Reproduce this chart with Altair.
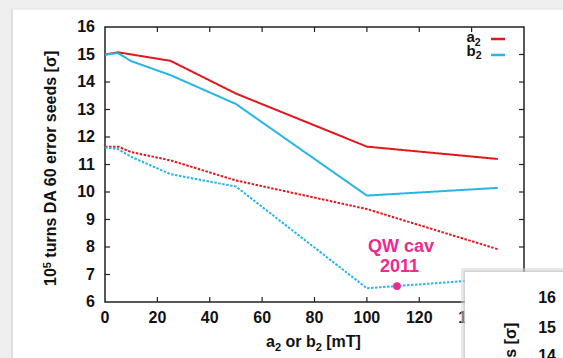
import altair as alt
import pandas as pd

# ---- data -------------------------------------------------------------
a2_x = [0, 5, 25, 50, 100, 150]
a2_da_1e5 = [15.0, 15.08, 14.77, 13.58, 11.65, 11.2]

b2_x = [0, 5, 10, 25, 50, 100, 150]
b2_da_1e5 = [15.0, 15.05, 14.76, 14.25, 13.2, 9.87, 10.15]

a2_x_dot = [0, 5, 10, 25, 50, 100, 150]
a2_da_dot = [11.65, 11.65, 11.45, 11.15, 10.42, 9.38, 7.92]

b2_x_dot = [0, 5, 10, 25, 50, 100, 150]
b2_da_dot = [11.62, 11.56, 11.28, 10.65, 10.2, 6.5, 6.85]

qw_cav_x = [111.5]
qw_cav_y = [6.58]

x_ticks = [0, 20, 40, 60, 80, 100, 120, 140, 160]
y_ticks = [6, 7, 8, 9, 10, 11, 12, 13, 14, 15, 16]
panel_labels = ["16", "15", "14"]

# ---- styling ----------------------------------------------------------
RED = "#e3161b"
BLUE = "#25b5e8"
PINK = "#ec2a8f"
INK = "#111111"
FONT = "Liberation Sans"
W, H = 419, 275          # plot area
OX, OY = 105, 27         # plot origin inside the page

xs = alt.Scale(domain=[0, 160], nice=False, zero=False)
ys = alt.Scale(domain=[6, 16], nice=False, zero=False)

ONE = pd.DataFrame({"k": [0]})

# advance widths of Liberation Sans Bold (per em), for laying out
# titles that mix normal text with sub/superscripts
ADV = {" ": .278, "a": .556, "b": .611, "o": .611, "r": .389, "[": .333, "]": .333,
       "m": .889, "T": .611, "t": .333, "u": .611, "n": .611, "s": .556, "D": .722,
       "A": .722, "e": .556, "d": .611, "σ": .6}


def text_width(s, size):
    return sum(ADV.get(c, .556) for c in s) * size


def rich_text(runs, x0, y0, vertical=False, color=INK):
    """runs: (text, font size, baseline shift). Page pixel coordinates."""
    layers, pos = [], 0.0
    for s, size, shift in runs:
        lead = len(s) - len(s.lstrip(" "))
        pos += text_width(" " * lead, size)
        s = s.lstrip(" ")
        if vertical:
            px, py, ang = x0 + shift, y0 - pos, 270
        else:
            px, py, ang = x0 + pos, y0 + shift, 0
        layers.append(alt.Chart(ONE).mark_text(
            font=FONT, fontWeight="bold", fontSize=size, color=color,
            align="left", baseline="alphabetic", angle=ang).encode(
            x=alt.value(px - OX), y=alt.value(py - OY), text=alt.value(s)))
        pos += text_width(s, size)
    return layers


def series(xv, yv, color, dashed):
    df = pd.DataFrame({"x": xv, "y": yv})
    m = alt.Chart(df).mark_line(color=color, strokeWidth=2,
                                strokeDash=[2.5, 1.5] if dashed else [1, 0])
    return m.encode(x=alt.X("x:Q", scale=xs, axis=None),
                    y=alt.Y("y:Q", scale=ys, axis=None))


def box(x1, x2, y1, y2, color, opacity=1.0):
    return alt.Chart(ONE).mark_rect(color=color, opacity=opacity).encode(
        x=alt.value(x1 - OX), x2=alt.value(x2 - OX),
        y=alt.value(y1 - OY), y2=alt.value(y2 - OY))


# slide edge shading
edges = [
    box(0, 12, 0, 358, "#efefef"),
    box(0, 563, 0, 9, "#efefef"),
    alt.Chart(ONE).mark_rule(color="#d6d6d6", strokeWidth=1.5).encode(
        x=alt.value(12 - OX), y=alt.value(9 - OY), y2=alt.value(358 - OY)),
    alt.Chart(ONE).mark_rule(color="#e2e2e2", strokeWidth=1).encode(
        x=alt.value(12 - OX), x2=alt.value(563 - OX), y=alt.value(9 - OY)),
]

# inward ticks on all four sides, and the tick labels
xt = pd.DataFrame({"v": x_ticks})
yt = pd.DataFrame({"v": y_ticks})
xt_in = pd.DataFrame({"v": x_ticks[1:-1]})
yt_in = pd.DataFrame({"v": y_ticks[1:-1]})
tick_style = dict(color="#222", strokeWidth=1.2)
ticks = [
    alt.Chart(xt_in).mark_rule(**tick_style).encode(
        x=alt.X("v:Q", scale=xs, axis=None), y=alt.value(H), y2=alt.value(H - 5)),
    alt.Chart(xt_in).mark_rule(**tick_style).encode(
        x=alt.X("v:Q", scale=xs, axis=None), y=alt.value(0), y2=alt.value(5)),
    alt.Chart(yt_in).mark_rule(**tick_style).encode(
        y=alt.Y("v:Q", scale=ys, axis=None), x=alt.value(0), x2=alt.value(5)),
    alt.Chart(yt_in).mark_rule(**tick_style).encode(
        y=alt.Y("v:Q", scale=ys, axis=None), x=alt.value(W), x2=alt.value(W - 5)),
]
label_style = dict(font=FONT, fontWeight="bold", fontSize=16, color=INK)
tick_labels = [
    alt.Chart(xt).mark_text(align="center", baseline="middle", **label_style).encode(
        x=alt.X("v:Q", scale=xs, axis=None), y=alt.value(318 - OY), text="v:Q"),
    alt.Chart(yt).mark_text(align="right", baseline="middle", **label_style).encode(
        y=alt.Y("v:Q", scale=ys, axis=None), x=alt.value(-10), text="v:Q"),
]

lines = [
    series(a2_x_dot, a2_da_dot, RED, True),
    series(b2_x_dot, b2_da_dot, BLUE, True),
    series(a2_x, a2_da_1e5, RED, False),
    series(b2_x, b2_da_1e5, BLUE, False),
]

qw_point = alt.Chart(pd.DataFrame({"x": qw_cav_x, "y": qw_cav_y})).mark_circle(
    color=PINK, opacity=1, size=60).encode(
    x=alt.X("x:Q", scale=xs, axis=None), y=alt.Y("y:Q", scale=ys, axis=None))

qw_text = [
    alt.Chart(ONE).mark_text(color=PINK, fontSize=18, font=FONT, fontWeight="bold",
                             align="center", baseline="middle").encode(
        x=alt.X(datum=x_val, scale=xs, axis=None),
        y=alt.Y(datum=y_val, scale=ys, axis=None), text=alt.value(label))
    for label, x_val, y_val in [("QW cav", 113, 8.0), ("2011", 112.5, 7.28)]
]

# axis titles with sub/superscripts
x_title = rich_text([("a", 16, 0), ("2", 11, 4), (" or b", 16, 0), ("2", 11, 4),
                     (" [mT]", 16, 0)], 266, 346.5)
y_title = rich_text([("10", 16, 0), ("5", 11, -4.5),
                     (" turns DA 60 error seeds [σ]", 16, 0)], 55.5, 286, vertical=True)

# legend
legend = (rich_text([("a", 15, 0), ("2", 10.5, 3.5)], 466.5, 42)
          + rich_text([("b", 15, 0), ("2", 10.5, 3)], 466.5, 56)
          + [alt.Chart(ONE).mark_rule(color=c, strokeWidth=2.5).encode(
              x=alt.value(491 - OX), x2=alt.value(505 - OX), y=alt.value(yy - OY))
             for c, yy in [(RED, 39), (BLUE, 55)]])

# overlapping panel in the lower right corner
panel = [
    box(461, 563, 268, 358, "#d4d4d4", 0.5),
    box(463.5, 563, 270.5, 358, "#bdbdbd", 0.5),
    box(465, 563, 272, 358, "white"),
]
panel += [alt.Chart(ONE).mark_text(
    font=FONT, fontWeight="bold", fontSize=16, color=INK,
    align="right", baseline="middle").encode(
    x=alt.value(556 - OX), y=alt.value(py - OY), text=alt.value(lab))
    for lab, py in zip(panel_labels, [298, 327.5, 356])]
panel += rich_text([("10", 16, 0), ("5", 11, -4.5),
                    (" turns DA 60 error seeds [σ]", 16, 0)], 515.5, 558, vertical=True)

chart = alt.layer(
    *edges, *ticks, *tick_labels, *lines, qw_point, *qw_text,
    *x_title, *y_title, *legend, *panel,
).properties(
    width=W, height=H,
    padding={"left": OX, "top": OY, "right": 563 - OX - W, "bottom": 358 - OY - H},
    autosize=alt.AutoSizeParams(type="none"),
    background="white",
).configure_view(stroke="#222", strokeWidth=1.5)

chart.save("out.html", embed_options={"renderer": "svg", "actions": False})
